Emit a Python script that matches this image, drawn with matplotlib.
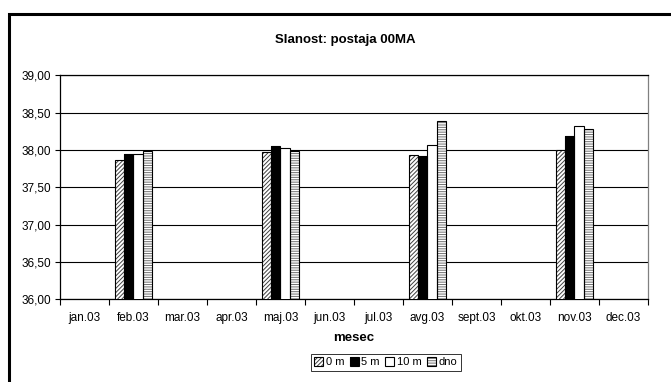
import matplotlib
import matplotlib.pyplot as plt
from matplotlib.legend_handler import HandlerTuple
from matplotlib.patches import Patch, Rectangle
from matplotlib.ticker import FixedLocator, FuncFormatter, MultipleLocator
import numpy as np

matplotlib.use("Agg")
plt.rcParams["font.family"] = ["Liberation Sans", "DejaVu Sans"]
plt.rcParams["hatch.linewidth"] = 0.7

months = ["jan.03", "feb.03", "mar.03", "apr.03", "maj.03", "jun.03",
          "jul.03", "avg.03", "sept.03", "okt.03", "nov.03", "dec.03"]
series = ["0 m", "5 m", "10 m", "dno"]

# salinity per depth, only sampled months carry values
sampled = [1, 4, 7, 10]
sal_0m = [37.87, 37.97, 37.93, 38.00]
sal_5m = [37.95, 38.05, 37.92, 38.19]
sal_10m = [37.95, 38.03, 38.06, 38.32]
sal_dno = [37.99, 37.99, 38.39, 38.28]

# face, hatch, hatch colour
styles = [
    ("white", "/" * 8, "#404040"),
    ("black", None, "black"),
    ("white", None, "black"),
    ("white", "-" * 7, "#707070"),
]

fig = plt.figure(figsize=(6.71, 3.82), dpi=100)
ax = fig.add_axes([0.0894, 0.2165, 0.8763, 0.5865])

width = 0.184
xs = np.array(sampled)
handles = []
for k, (vals, (face, hatch, hcol)) in enumerate(zip([sal_0m, sal_5m, sal_10m, sal_dno], styles)):
    pos = xs + (k - 1.5) * width
    ax.bar(pos, vals, width=width, color=face, hatch=hatch, edgecolor=hcol,
           linewidth=0, zorder=3)
    ax.bar(pos, vals, width=width, fill=False, edgecolor="black",
           linewidth=0.8, zorder=4)
    handles.append((Patch(facecolor=face, hatch=hatch, edgecolor=hcol, linewidth=0),
                    Patch(fill=False, edgecolor="black", linewidth=0.8)))

ax.set_xlim(-0.5, 11.5)
ax.set_ylim(36.0, 39.0)
ax.yaxis.set_major_locator(MultipleLocator(0.5))
ax.yaxis.set_major_formatter(FuncFormatter(lambda v, _: f"{v:.2f}".replace(".", ",")))
ax.grid(axis="y", color="black", linewidth=0.8, zorder=1)

ax.xaxis.set_major_locator(FixedLocator(np.arange(-0.5, 12, 1)))
ax.xaxis.set_major_formatter(FuncFormatter(lambda v, _: ""))
ax.xaxis.set_minor_locator(FixedLocator(np.arange(12)))
ax.set_xticklabels(months, minor=True)
ax.tick_params(axis="x", which="major", direction="out", length=4, width=0.8)
ax.tick_params(axis="x", which="minor", length=0, pad=9, labelsize=8.5)
ax.tick_params(axis="y", direction="out", length=3.5, width=0.8, labelsize=8.5, pad=3)

for side in ("left", "bottom", "top"):
    ax.spines[side].set_color("black")
    ax.spines[side].set_linewidth(0.9)
ax.spines["right"].set_color("#808080")
ax.spines["right"].set_linewidth(0.9)

ax.set_xlabel("mesec", fontsize=9.5, fontweight="bold", labelpad=6)
fig.text(0.514, 0.895, "Slanost: postaja 00MA", ha="center", va="center",
         fontsize=9.5, fontweight="bold")

leg = fig.legend(handles, series, loc="center", bbox_to_anchor=(0.575, 0.052),
                 ncol=4, fontsize=8, frameon=True, fancybox=False,
                 handler_map={tuple: HandlerTuple(ndivide=1, pad=0)},
                 handlelength=0.8, handleheight=0.8, handletextpad=0.25,
                 columnspacing=0.5, borderpad=0.3, borderaxespad=0)
leg.get_frame().set_edgecolor("black")
leg.get_frame().set_linewidth(0.7)

# outer chart border, running off the right and bottom edges
fig.patches.append(Rectangle((8.5 / 671, -0.05), 1.2, 1.05 - 13.5 / 382,
                             transform=fig.transFigure, fill=False,
                             edgecolor="black", linewidth=2.2))

fig.savefig("out.png", dpi=100, facecolor="white")
